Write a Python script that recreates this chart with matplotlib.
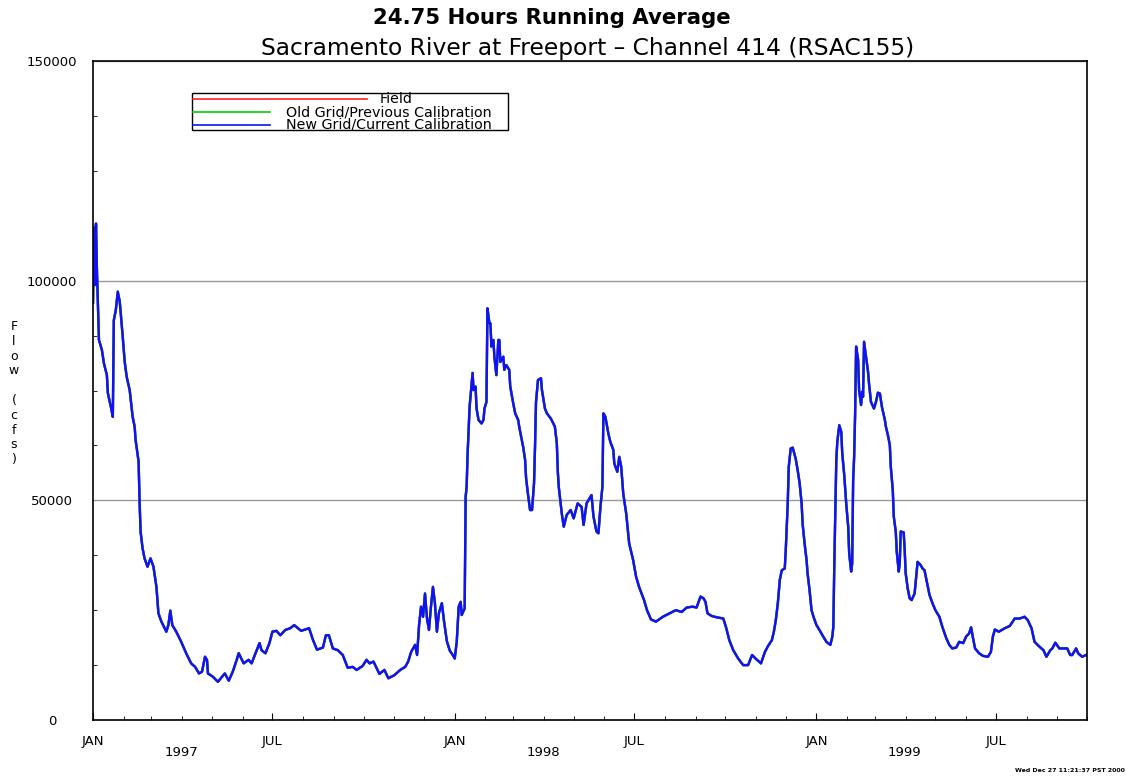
"""24.75 hour running average flow, Sacramento River at Freeport."""

import matplotlib
matplotlib.use("Agg")
import matplotlib.pyplot as plt
import matplotlib.dates as mdates
from matplotlib.patches import Rectangle
from matplotlib.lines import Line2D
import numpy as np

START = np.datetime64("1997-01-01")
END = np.datetime64("1999-10-01")

# day offset from 1 Jan 1997 and flow (cfs)
day = [0, 1, 2, 3, 4, 5, 6, 9, 11, 14, 15, 18, 20, 21, 23, 25, 27, 30, 32, 34,
       37, 40, 42, 43, 46, 47, 48, 50, 52, 55, 58, 61, 64, 66, 69, 74, 76, 78, 80, 84,
       89, 94, 99, 103, 107, 110, 113, 115, 116, 121, 126, 133, 137, 141, 145, 147, 152, 157, 160, 164,
       168, 170, 174, 178, 181, 185, 189, 194, 199, 203, 210, 218, 222, 226, 232, 235, 238, 242, 247, 252,
       257, 262, 266, 272, 276, 279, 283, 289, 294, 298, 304, 310, 315, 318, 321, 325, 327, 329, 331, 333,
       335, 337, 339, 341, 343, 345, 347, 349, 352, 354, 357, 360, 363, 365, 367, 369, 371, 372, 375, 376,
       377, 378, 380, 382, 383, 384, 386, 387, 389, 392, 394, 395, 397, 398, 400, 401, 402, 404, 405, 407,
       409, 410, 411, 414, 415, 417, 420, 421, 424, 426, 429, 430, 432, 434, 436, 437, 439, 441, 443, 445,
       446, 447, 449, 452, 453, 456, 458, 462, 466, 468, 469, 470, 473, 475, 478, 482, 485, 489, 493, 495,
       498, 503, 505, 508, 510, 512, 514, 515, 517, 520, 522, 525, 526, 529, 531, 533, 535, 538, 541, 545,
       548, 551, 556, 559, 563, 568, 575, 582, 588, 594, 599, 605, 609, 613, 616, 618, 620, 624, 629, 636,
       639, 642, 646, 651, 656, 661, 665, 669, 674, 678, 681, 685, 687, 689, 691, 693, 695, 698, 699, 701,
       702, 704, 706, 709, 711, 713, 715, 716, 718, 720, 721, 723, 725, 727, 730, 733, 736, 740, 744, 746,
       747, 748, 750, 751, 753, 755, 756, 758, 760, 762, 763, 765, 766, 767, 768, 769, 770, 772, 773, 775,
       776, 777, 778, 780, 782, 783, 785, 788, 790, 792, 794, 796, 799, 800, 802, 804, 805, 807, 808, 810,
       811, 813, 814, 815, 818, 819, 820, 822, 824, 826, 829, 830, 832, 835, 837, 839, 841, 844, 847, 850,
       854, 857, 861, 864, 867, 871, 874, 878, 881, 884, 886, 888, 890, 894, 898, 903, 906, 908, 910, 914,
       920, 925, 930, 935, 940, 943, 947, 950, 955, 959, 962, 966, 968, 971, 975, 983, 986, 988, 992, 994,
       998, 1002]
flow = [95000, 112000, 99000, 113000, 102000, 94500, 86500, 84200, 81200, 78500, 74400, 71300, 69000, 91000, 93300, 97500, 95200, 87200, 81500, 78100,
        75100, 69000, 66800, 63700, 58800, 49700, 42900, 39100, 36800, 34900, 36800, 34900, 30300, 24300, 22400, 20100, 21600, 24900, 21600, 20100,
        17800, 15200, 12900, 12100, 10600, 11000, 14400, 13700, 10600, 9850, 8700, 10600, 8950, 11000, 13700, 15200, 12900, 13700, 12900, 15200,
        17500, 15900, 15200, 17500, 20100, 20300, 19300, 20500, 20900, 21600, 20300, 20900, 18200, 16000, 16500, 19300, 19300, 16300, 15900, 14800,
        11900, 12100, 11400, 12300, 13700, 12900, 13300, 10500, 11400, 9500, 10200, 11400, 12100, 13300, 15500, 17100, 14800, 21600, 25800, 23500,
        28800, 23100, 20500, 25800, 30300, 26600, 20100, 24300, 26600, 22800, 18000, 15800, 14800, 14000, 17800, 25800, 26900, 23900, 25400, 50800,
        53100, 60700, 71300, 76600, 79000, 75100, 75900, 70900, 68300, 67500, 68300, 70900, 72400, 93700, 90300, 90300, 85000, 86500, 82700, 78500,
        86500, 86500, 81500, 82700, 79700, 80800, 79700, 75900, 72100, 69800, 68300, 66800, 64500, 62200, 59200, 55000, 51200, 47800, 47800, 53900,
        62200, 72400, 77400, 77800, 75100, 70900, 69800, 68600, 66800, 63000, 56500, 53000, 47000, 44000, 46700, 47800, 45900, 49300, 48500, 44400,
        49300, 51200, 46300, 42900, 42500, 48500, 53100, 69800, 69000, 65200, 63300, 61500, 58400, 56500, 59900, 57600, 51600, 47000, 40200, 36400,
        32600, 30300, 27300, 25000, 22900, 22400, 23500, 24300, 25000, 24600, 25600, 25800, 25600, 28100, 27700, 26900, 24300, 23700, 23400, 23100,
        20900, 18200, 15900, 14000, 12500, 12500, 14800, 13900, 12900, 15500, 16800, 18200, 20100, 22800, 26600, 31900, 34100, 34500, 38700, 49300,
        57600, 61800, 62000, 59500, 56900, 53900, 49300, 44700, 40200, 36400, 33400, 29600, 25000, 23500, 21600, 20500, 19300, 17800, 17100, 19000,
        21200, 35600, 59200, 63300, 67100, 65600, 60700, 55800, 49300, 44000, 37900, 33800, 35600, 54600, 59900, 69800, 85000, 82000, 75100, 71700,
        74700, 73600, 86100, 82700, 79300, 76600, 72400, 70900, 72400, 74500, 74300, 71300, 68300, 66800, 64900, 62600, 57600, 52300, 46300, 42900,
        38300, 33800, 35600, 42900, 42700, 38700, 33400, 30000, 27700, 27300, 28800, 31100, 36000, 35300, 34500, 34100, 31900, 28500, 26600, 25000,
        23500, 21200, 18600, 17100, 16300, 16500, 17800, 17500, 19000, 19700, 21100, 18600, 16300, 15200, 14600, 14400, 15500, 19000, 20600, 20100,
        20900, 21400, 23100, 23100, 23500, 22800, 20900, 17800, 16700, 15900, 14400, 15900, 16300, 17600, 16300, 16300, 14800, 14800, 16300, 15200,
        14400, 14800]

series = ["Field", "Old Grid/Previous Calibration", "New Grid/Current Calibration"]
colors = ["#ff2020", "#00d000", "#1010ff"]
years = ["1997", "1998", "1999"]

dates = START + np.array(day, dtype="timedelta64[D]")

fig = plt.figure(figsize=(11.26, 7.79), dpi=100)
ax = fig.add_axes([0.0826, 0.0757, 0.8828, 0.846])

for name, c in zip(series, colors):
    ax.plot(dates, flow, color=c, linewidth=1.7, label=name)

ax.set_xlim(START, END)
ax.set_ylim(0, 150000)

ax.yaxis.set_major_locator(plt.MultipleLocator(50000))
ax.yaxis.set_minor_locator(plt.MultipleLocator(12500))
ax.xaxis.set_major_locator(mdates.MonthLocator(bymonth=[1, 7]))
ax.xaxis.set_minor_locator(mdates.MonthLocator())
ax.xaxis.set_major_formatter(plt.FuncFormatter(
    lambda v, pos: mdates.num2date(v).strftime("%b").upper()))
ax.tick_params(which="both", direction="in", top=False, right=False, labelsize=9.5)
ax.tick_params(axis="x", which="major", length=5, pad=11)
ax.tick_params(axis="x", which="minor", length=3)
ax.tick_params(axis="y", which="major", length=0, pad=29.5)
ax.tick_params(axis="y", which="minor", length=3)
for lbl in ax.get_yticklabels():
    lbl.set_horizontalalignment("center")
ax.grid(axis="y", which="major", color="#999999", linewidth=1)
for sp in ax.spines.values():
    sp.set_linewidth(1.2)

trans = ax.get_xaxis_transform()
for y in years:
    ax.text(np.datetime64(f"{y}-03-31"), -0.05, y, transform=trans,
            ha="center", va="center", fontsize=9.5)

# legend box drawn by hand (centred labels, differing line lengths)
ax.add_patch(Rectangle((0.0996, 0.8953), 0.318, 0.0561, transform=ax.transAxes,
                       facecolor="white", edgecolor="black", linewidth=1, zorder=5))
rows = [0.9423, 0.9226, 0.9035]
line_end = [0.2757, 0.178, 0.178]
text_x = [0.3048, 0.2973, 0.2973]
for name, c, yy, xe, xt in zip(series, colors, rows, line_end, text_x):
    ax.add_line(Line2D([0.1006, xe], [yy, yy], transform=ax.transAxes,
                       color=c, linewidth=1.2, zorder=6))
    ax.text(xt, yy, name, transform=ax.transAxes, ha="center", va="center",
            fontsize=10.3, zorder=6)

fig.text(0.49, 0.977, "24.75 Hours Running Average", ha="center", va="center",
         fontsize=15.3, fontweight="bold")
fig.text(0.522, 0.938, "Sacramento River at Freeport \u2013 Channel 414 (RSAC155)",
         ha="center", va="center", fontsize=16.8)
fig.text(0.0124, 0.4955, "F\nl\no\nw\n\n(\nc\nf\ns\n)", ha="center", va="center",
         fontsize=9, linespacing=1.18)
fig.text(0.999, 0.0103, "Wed Dec 27 11:21:37 PST 2000", ha="right", va="center",
         fontsize=4.5, fontweight="bold")

fig.savefig("out.png", dpi=100)
